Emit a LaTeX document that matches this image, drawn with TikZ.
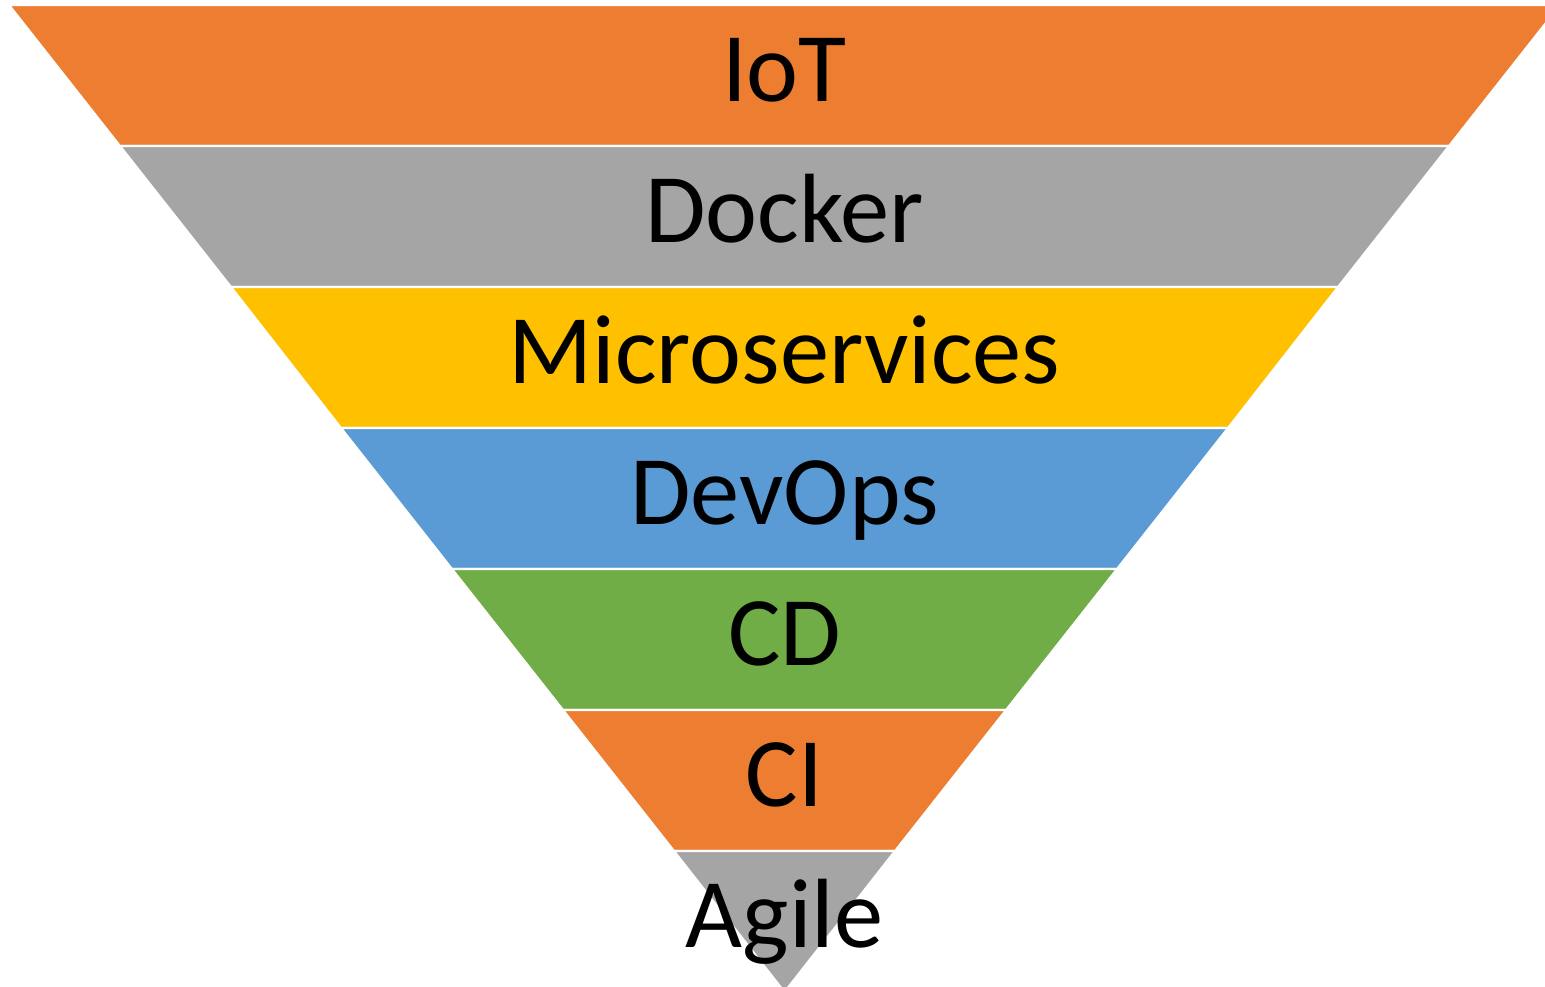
\documentclass[tikz,border=0pt]{standalone}
\usepackage{fontspec}
\setmainfont{Carlito}
\definecolor{bandorange}{HTML}{ED7D31}
\definecolor{bandgray}{HTML}{A5A5A5}
\definecolor{bandgold}{HTML}{FFC000}
\definecolor{bandblue}{HTML}{5B9BD5}
\definecolor{bandgreen}{HTML}{70AD47}
\tikzset{
  band/.style={draw=white,line width=0.6pt},
  bandlabel/.style={anchor=base,inner sep=0pt,font=\fontsize{28}{32}\selectfont}
}
\begin{document}
\begin{tikzpicture}

\clip (0,0) rectangle (15.45,9.86);

%iot
\path[band,fill=bandorange] (0.09,9.81) -- (15.60,9.81) -- (14.49,8.40) -- (1.20,8.40) -- cycle;
\node[bandlabel] (iot) at (7.845,8.85) {IoT};

%docker
\path[band,fill=bandgray] (1.20,8.40) -- (14.49,8.40) -- (13.38,6.99) -- (2.31,6.99) -- cycle;
\node[bandlabel] (docker) at (7.845,7.44) {Docker};

%microservices
\path[band,fill=bandgold] (2.31,6.99) -- (13.38,6.99) -- (12.28,5.58) -- (3.41,5.58) -- cycle;
\node[bandlabel] (micro) at (7.845,6.03) {Microservices};

%devops
\path[band,fill=bandblue] (3.41,5.58) -- (12.28,5.58) -- (11.17,4.17) -- (4.52,4.17) -- cycle;
\node[bandlabel] (devops) at (7.845,4.62) {DevOps};

%cd
\path[band,fill=bandgreen] (4.52,4.17) -- (11.17,4.17) -- (10.06,2.76) -- (5.63,2.76) -- cycle;
\node[bandlabel] (cd) at (7.845,3.21) {CD};

%ci
\path[band,fill=bandorange] (5.63,2.76) -- (10.06,2.76) -- (8.95,1.35) -- (6.74,1.35) -- cycle;
\node[bandlabel] (ci) at (7.845,1.80) {CI};

%agile
\path[band,fill=bandgray] (6.74,1.35) -- (8.95,1.35) -- (7.845,-0.06) -- cycle;
\node[bandlabel] (agile) at (7.845,0.39) {Agile};

\end{tikzpicture}
\end{document}
